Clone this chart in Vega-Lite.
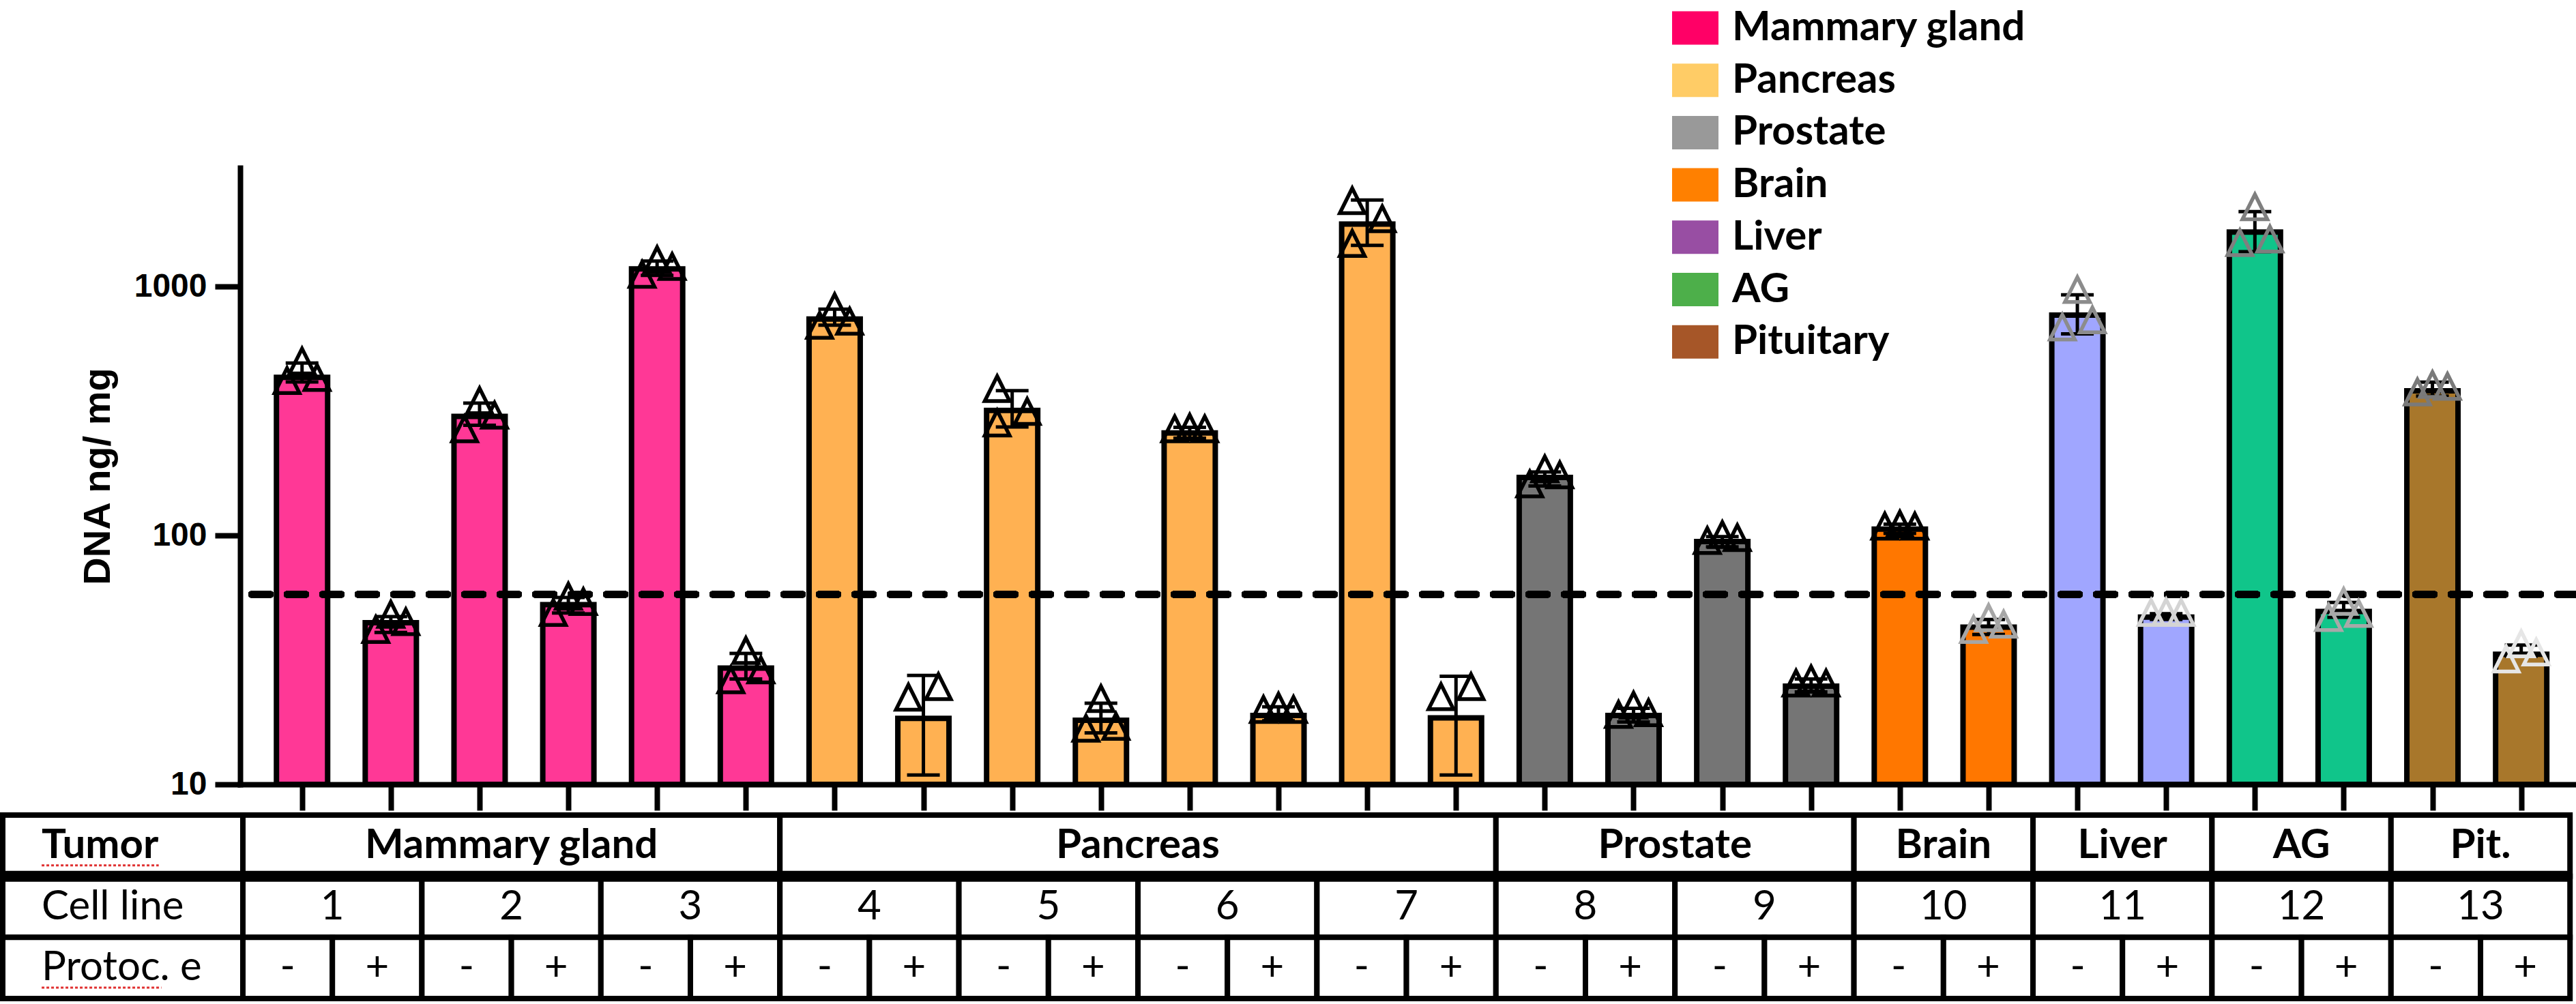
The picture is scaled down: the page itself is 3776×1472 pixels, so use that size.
{
  "$schema": "https://vega.github.io/schema/vega-lite/v6.json",
  "description": "DNA ng/mg per tumor cell line, with and without protocol e, log scale, with table of groups underneath.",
  "width": 3424,
  "height": 904,
  "autosize": "none",
  "padding": {"left": 352, "top": 246, "right": 0, "bottom": 322},
  "background": "white",
  "datasets": {
    "bars": [
      {"pos": 1, "tissue": "Mammary gland", "line": 1, "prot": "-", "mean": 432, "lo": 414, "hi": 493},
      {"pos": 2, "tissue": "Mammary gland", "line": 1, "prot": "+", "mean": 44.6, "lo": 40.8, "hi": 47.2},
      {"pos": 3, "tissue": "Mammary gland", "line": 2, "prot": "-", "mean": 301, "lo": 277, "hi": 340},
      {"pos": 4, "tissue": "Mammary gland", "line": 2, "prot": "+", "mean": 52.7, "lo": 48.8, "hi": 56.3},
      {"pos": 5, "tissue": "Mammary gland", "line": 3, "prot": "-", "mean": 1178, "lo": 1109, "hi": 1265},
      {"pos": 6, "tissue": "Mammary gland", "line": 3, "prot": "+", "mean": 29.3, "lo": 26.5, "hi": 33.6},
      {"pos": 7, "tissue": "Pancreas", "line": 4, "prot": "-", "mean": 740, "lo": 700, "hi": 812},
      {"pos": 8, "tissue": "Pancreas", "line": 4, "prot": "+", "mean": 18.4, "lo": 10.9, "hi": 27.4},
      {"pos": 9, "tissue": "Pancreas", "line": 5, "prot": "-", "mean": 318, "lo": 273, "hi": 382},
      {"pos": 10, "tissue": "Pancreas", "line": 5, "prot": "+", "mean": 18.1, "lo": 16.1, "hi": 21.2},
      {"pos": 11, "tissue": "Pancreas", "line": 6, "prot": "-", "mean": 258, "lo": 246, "hi": 272},
      {"pos": 12, "tissue": "Pancreas", "line": 6, "prot": "+", "mean": 18.9, "lo": 18, "hi": 20.5},
      {"pos": 13, "tissue": "Pancreas", "line": 7, "prot": "-", "mean": 1783, "lo": 1463, "hi": 2228},
      {"pos": 14, "tissue": "Pancreas", "line": 7, "prot": "+", "mean": 18.5, "lo": 10.9, "hi": 27.2},
      {"pos": 15, "tissue": "Prostate", "line": 8, "prot": "-", "mean": 171, "lo": 158, "hi": 180},
      {"pos": 16, "tissue": "Prostate", "line": 8, "prot": "+", "mean": 18.9, "lo": 17.8, "hi": 20.2},
      {"pos": 17, "tissue": "Prostate", "line": 9, "prot": "-", "mean": 94.5, "lo": 90, "hi": 99},
      {"pos": 18, "tissue": "Prostate", "line": 9, "prot": "+", "mean": 24.8, "lo": 23.5, "hi": 26.5},
      {"pos": 19, "tissue": "Brain", "line": 10, "prot": "-", "mean": 106, "lo": 102, "hi": 111},
      {"pos": 20, "tissue": "Brain", "line": 10, "prot": "+", "mean": 42.8, "lo": 40, "hi": 46},
      {"pos": 21, "tissue": "Liver", "line": 11, "prot": "-", "mean": 768, "lo": 645, "hi": 927},
      {"pos": 22, "tissue": "Liver", "line": 11, "prot": "+", "mean": 47, "lo": 46, "hi": 48.5},
      {"pos": 23, "tissue": "AG", "line": 12, "prot": "-", "mean": 1656, "lo": 1380, "hi": 2000},
      {"pos": 24, "tissue": "AG", "line": 12, "prot": "+", "mean": 49.5, "lo": 46.9, "hi": 53.8},
      {"pos": 25, "tissue": "Pituitary", "line": 13, "prot": "-", "mean": 381, "lo": 363, "hi": 413},
      {"pos": 26, "tissue": "Pituitary", "line": 13, "prot": "+", "mean": 33.3, "lo": 32.7, "hi": 36.3}
    ],
    "reps": [
      {"pos": 1, "slot": -1, "v": 419}, {"pos": 1, "slot": 0, "v": 502}, {"pos": 1, "slot": 1, "v": 431},
      {"pos": 2, "slot": -1, "v": 41.9}, {"pos": 2, "slot": 0, "v": 48.2}, {"pos": 2, "slot": 1, "v": 45},
      {"pos": 3, "slot": -1, "v": 268}, {"pos": 3, "slot": 0, "v": 348}, {"pos": 3, "slot": 1, "v": 304},
      {"pos": 4, "slot": -1, "v": 49}, {"pos": 4, "slot": 0, "v": 57}, {"pos": 4, "slot": 1, "v": 54.2},
      {"pos": 5, "slot": -1, "v": 1119}, {"pos": 5, "slot": 0, "v": 1282}, {"pos": 5, "slot": 1, "v": 1203},
      {"pos": 6, "slot": -1, "v": 26.3}, {"pos": 6, "slot": 0, "v": 34.5}, {"pos": 6, "slot": 1, "v": 28.8},
      {"pos": 7, "slot": -1, "v": 698}, {"pos": 7, "slot": 0, "v": 830}, {"pos": 7, "slot": 1, "v": 725},
      {"pos": 8, "slot": -1, "v": 22.4}, {"pos": 8, "slot": 1, "v": 24.7},
      {"pos": 9, "slot": -1, "v": 389}, {"pos": 9, "slot": 1, "v": 315}, {"pos": 9, "slot": -1, "v": 283},
      {"pos": 10, "slot": -1, "v": 16.8}, {"pos": 10, "slot": 0, "v": 22.1}, {"pos": 10, "slot": 1, "v": 17.1},
      {"pos": 11, "slot": -1, "v": 268}, {"pos": 11, "slot": 0, "v": 272}, {"pos": 11, "slot": 1, "v": 268},
      {"pos": 12, "slot": -1, "v": 20}, {"pos": 12, "slot": 0, "v": 20.6}, {"pos": 12, "slot": 1, "v": 20},
      {"pos": 13, "slot": -1, "v": 2213}, {"pos": 13, "slot": 1, "v": 1871}, {"pos": 13, "slot": -1, "v": 1490},
      {"pos": 14, "slot": -1, "v": 22.5}, {"pos": 14, "slot": 1, "v": 24.7},
      {"pos": 15, "slot": -1, "v": 161}, {"pos": 15, "slot": 0, "v": 185}, {"pos": 15, "slot": 1, "v": 175},
      {"pos": 16, "slot": -1, "v": 19.1}, {"pos": 16, "slot": 0, "v": 20.8}, {"pos": 16, "slot": 1, "v": 19.4},
      {"pos": 17, "slot": -1, "v": 95.4}, {"pos": 17, "slot": 0, "v": 100.8}, {"pos": 17, "slot": 1, "v": 98},
      {"pos": 18, "slot": -1, "v": 25.5}, {"pos": 18, "slot": 0, "v": 26.5}, {"pos": 18, "slot": 1, "v": 25.5},
      {"pos": 19, "slot": -1, "v": 109}, {"pos": 19, "slot": 0, "v": 111}, {"pos": 19, "slot": 1, "v": 109},
      {"pos": 20, "slot": -1, "v": 41.9}, {"pos": 20, "slot": 0, "v": 46.7}, {"pos": 20, "slot": 1, "v": 44},
      {"pos": 21, "slot": -1, "v": 687}, {"pos": 21, "slot": 0, "v": 972}, {"pos": 21, "slot": 1, "v": 734},
      {"pos": 22, "slot": -1, "v": 49}, {"pos": 22, "slot": 0, "v": 49.3}, {"pos": 22, "slot": 1, "v": 49},
      {"pos": 23, "slot": -1, "v": 1500}, {"pos": 23, "slot": 0, "v": 2090}, {"pos": 23, "slot": 1, "v": 1552},
      {"pos": 24, "slot": -1, "v": 46.8}, {"pos": 24, "slot": 0, "v": 54.3}, {"pos": 24, "slot": 1, "v": 48.6},
      {"pos": 25, "slot": -1, "v": 377}, {"pos": 25, "slot": 0, "v": 404}, {"pos": 25, "slot": 1, "v": 397},
      {"pos": 26, "slot": -1, "v": 31.9}, {"pos": 26, "slot": 0, "v": 36.7}, {"pos": 26, "slot": 1, "v": 34}
    ],
    "cells": [
      {"row": "Tumor", "from": 0, "to": 6, "label": "Mammary gland"},
      {"row": "Tumor", "from": 6, "to": 14, "label": "Pancreas"},
      {"row": "Tumor", "from": 14, "to": 18, "label": "Prostate"},
      {"row": "Tumor", "from": 18, "to": 20, "label": "Brain"},
      {"row": "Tumor", "from": 20, "to": 22, "label": "Liver"},
      {"row": "Tumor", "from": 22, "to": 24, "label": "AG"},
      {"row": "Tumor", "from": 24, "to": 26, "label": "Pit."},
      {"row": "Cell line", "from": 0, "to": 2, "label": "1"},
      {"row": "Cell line", "from": 2, "to": 4, "label": "2"},
      {"row": "Cell line", "from": 4, "to": 6, "label": "3"},
      {"row": "Cell line", "from": 6, "to": 8, "label": "4"},
      {"row": "Cell line", "from": 8, "to": 10, "label": "5"},
      {"row": "Cell line", "from": 10, "to": 12, "label": "6"},
      {"row": "Cell line", "from": 12, "to": 14, "label": "7"},
      {"row": "Cell line", "from": 14, "to": 16, "label": "8"},
      {"row": "Cell line", "from": 16, "to": 18, "label": "9"},
      {"row": "Cell line", "from": 18, "to": 20, "label": "10"},
      {"row": "Cell line", "from": 20, "to": 22, "label": "11"},
      {"row": "Cell line", "from": 22, "to": 24, "label": "12"},
      {"row": "Cell line", "from": 24, "to": 26, "label": "13"},
      {"row": "Protoc. e", "from": 0, "to": 1, "label": "-"},
      {"row": "Protoc. e", "from": 1, "to": 2, "label": "+"},
      {"row": "Protoc. e", "from": 2, "to": 3, "label": "-"},
      {"row": "Protoc. e", "from": 3, "to": 4, "label": "+"},
      {"row": "Protoc. e", "from": 4, "to": 5, "label": "-"},
      {"row": "Protoc. e", "from": 5, "to": 6, "label": "+"},
      {"row": "Protoc. e", "from": 6, "to": 7, "label": "-"},
      {"row": "Protoc. e", "from": 7, "to": 8, "label": "+"},
      {"row": "Protoc. e", "from": 8, "to": 9, "label": "-"},
      {"row": "Protoc. e", "from": 9, "to": 10, "label": "+"},
      {"row": "Protoc. e", "from": 10, "to": 11, "label": "-"},
      {"row": "Protoc. e", "from": 11, "to": 12, "label": "+"},
      {"row": "Protoc. e", "from": 12, "to": 13, "label": "-"},
      {"row": "Protoc. e", "from": 13, "to": 14, "label": "+"},
      {"row": "Protoc. e", "from": 14, "to": 15, "label": "-"},
      {"row": "Protoc. e", "from": 15, "to": 16, "label": "+"},
      {"row": "Protoc. e", "from": 16, "to": 17, "label": "-"},
      {"row": "Protoc. e", "from": 17, "to": 18, "label": "+"},
      {"row": "Protoc. e", "from": 18, "to": 19, "label": "-"},
      {"row": "Protoc. e", "from": 19, "to": 20, "label": "+"},
      {"row": "Protoc. e", "from": 20, "to": 21, "label": "-"},
      {"row": "Protoc. e", "from": 21, "to": 22, "label": "+"},
      {"row": "Protoc. e", "from": 22, "to": 23, "label": "-"},
      {"row": "Protoc. e", "from": 23, "to": 24, "label": "+"},
      {"row": "Protoc. e", "from": 24, "to": 25, "label": "-"},
      {"row": "Protoc. e", "from": 25, "to": 26, "label": "+"}
    ],
    "heads": [
      {"row": "Tumor"},
      {"row": "Cell line"},
      {"row": "Protoc. e"}
    ]
  },
  "layer": [
    {
      "data": {"name": "bars"},
      "layer": [
        {
          "mark": {"type": "bar", "orient": "vertical", "size": 75, "stroke": "black", "strokeWidth": 8, "opacity": 1},
          "encoding": {
            "x": {
              "field": "pos",
              "type": "quantitative",
              "scale": {"domain": [0.341, 26.579], "nice": false, "zero": false},
              "axis": {
                "values": [1, 2, 3, 4, 5, 6, 7, 8, 9, 10, 11, 12, 13, 14, 15, 16, 17, 18, 19, 20, 21, 22, 23, 24, 25, 26],
                "labels": false,
                "title": null,
                "grid": false,
                "tickSize": 38,
                "tickWidth": 8,
                "tickColor": "black",
                "domainColor": "black",
                "domainWidth": 8,
                "domainCap": "square",
                "zindex": 1
              }
            },
            "y": {
              "field": "mean",
              "type": "quantitative",
              "scale": {"type": "log", "domain": [10, 3000], "nice": false},
              "axis": {
                "values": [10, 100, 1000],
                "format": "d",
                "title": "DNA ng/ mg",
                "titleFont": "Liberation Sans",
                "titleFontSize": 56,
                "titleFontWeight": "bold",
                "titleColor": "black",
                "titlePadding": 24,
                "labelFont": "Liberation Sans",
                "labelFontSize": 48,
                "labelFontWeight": "bold",
                "labelColor": "black",
                "labelPadding": 12,
                "labelFlush": false,
                "labelOverlap": false,
                "tickSize": 37,
                "tickWidth": 8,
                "tickColor": "black",
                "domainColor": "black",
                "domainWidth": 8,
                "domainCap": "square",
                "grid": false,
                "zindex": 1
              }
            },
            "y2": {"datum": 10},
            "fill": {
              "field": "tissue",
              "type": "nominal",
              "condition": [
                {"test": "datum.tissue == 'Mammary gland'", "value": "#FF3896"},
                {"test": "datum.tissue == 'Pancreas'", "value": "#FFB152"},
                {"test": "datum.tissue == 'Prostate'", "value": "#757575"},
                {"test": "datum.tissue == 'Brain'", "value": "#FF7700"},
                {"test": "datum.tissue == 'Liver'", "value": "#A0A6FF"},
                {"test": "datum.tissue == 'AG'", "value": "#10C58A"},
                {"test": "datum.tissue == 'Pituitary'", "value": "#A8772B"}
              ],
              "scale": {
                "domain": ["Mammary gland", "Pancreas", "Prostate", "Brain", "Liver", "AG", "Pituitary"],
                "range": ["#FF0066", "#FFCC66", "#999999", "#FF8000", "#984EA3", "#4DAF4A", "#A65628"]
              },
              "legend": {
                "title": null,
                "orient": "none",
                "legendX": 2099,
                "legendY": -239,
                "padding": 0,
                "symbolType": "M-1,-0.72H1V0.72H-1Z",
                "symbolSize": 4624,
                "symbolStrokeWidth": 0,
                "symbolOpacity": 1,
                "labelFont": "Lato",
                "labelFontSize": 60,
                "labelFontWeight": "bold",
                "labelColor": "black",
                "labelOffset": 20,
                "labelLimit": 1000,
                "rowPadding": 12.7
              }
            }
          }
        },
        {
          "mark": {"type": "rule", "stroke": "black", "strokeWidth": 10, "strokeDash": [27, 25], "strokeCap": "round", "opacity": 1},
          "encoding": {"y": {"datum": 58, "type": "quantitative"}}
        },
        {
          "mark": {"type": "rule", "stroke": "black", "strokeWidth": 5, "opacity": 1},
          "encoding": {
            "x": {"field": "pos", "type": "quantitative"},
            "y": {"field": "lo", "type": "quantitative"},
            "y2": {"field": "hi"}
          }
        },
        {
          "transform": [{"fold": ["lo", "hi"], "as": ["end", "v"]}],
          "mark": {"type": "tick", "orient": "horizontal", "size": 48, "thickness": 5, "color": "black", "opacity": 1},
          "encoding": {
            "x": {"field": "pos", "type": "quantitative"},
            "y": {"field": "v", "type": "quantitative"}
          }
        },
        {
          "data": {"name": "reps"},
          "transform": [{"filter": "datum.slot == -1"}],
          "mark": {"type": "point", "shape": "M0,-1L1,1L-1,1Z", "filled": false, "size": 1330, "strokeWidth": 5.5, "opacity": 1, "xOffset": -22},
          "encoding": {
            "x": {"field": "pos", "type": "quantitative"},
            "y": {"field": "v", "type": "quantitative"},
            "stroke": {
              "condition": [
                {"test": "datum.pos == 20", "value": "#A6A6A6"},
                {"test": "datum.pos == 21", "value": "#8C8C8C"},
                {"test": "datum.pos == 22", "value": "#D4D4D4"},
                {"test": "datum.pos == 23", "value": "#7F7F7F"},
                {"test": "datum.pos == 24", "value": "#A8A8A8"},
                {"test": "datum.pos == 25", "value": "#7A7A7A"},
                {"test": "datum.pos == 26", "value": "#E6E6E6"}
              ],
              "value": "black"
            }
          }
        },
        {
          "data": {"name": "reps"},
          "transform": [{"filter": "datum.slot == 0"}],
          "mark": {"type": "point", "shape": "M0,-1L1,1L-1,1Z", "filled": false, "size": 1330, "strokeWidth": 5.5, "opacity": 1},
          "encoding": {
            "x": {"field": "pos", "type": "quantitative"},
            "y": {"field": "v", "type": "quantitative"},
            "stroke": {
              "condition": [
                {"test": "datum.pos == 20", "value": "#A6A6A6"},
                {"test": "datum.pos == 21", "value": "#8C8C8C"},
                {"test": "datum.pos == 22", "value": "#D4D4D4"},
                {"test": "datum.pos == 23", "value": "#7F7F7F"},
                {"test": "datum.pos == 24", "value": "#A8A8A8"},
                {"test": "datum.pos == 25", "value": "#7A7A7A"},
                {"test": "datum.pos == 26", "value": "#E6E6E6"}
              ],
              "value": "black"
            }
          }
        },
        {
          "data": {"name": "reps"},
          "transform": [{"filter": "datum.slot == 1"}],
          "mark": {"type": "point", "shape": "M0,-1L1,1L-1,1Z", "filled": false, "size": 1330, "strokeWidth": 5.5, "opacity": 1, "xOffset": 22},
          "encoding": {
            "x": {"field": "pos", "type": "quantitative"},
            "y": {"field": "v", "type": "quantitative"},
            "stroke": {
              "condition": [
                {"test": "datum.pos == 20", "value": "#A6A6A6"},
                {"test": "datum.pos == 21", "value": "#8C8C8C"},
                {"test": "datum.pos == 22", "value": "#D4D4D4"},
                {"test": "datum.pos == 23", "value": "#7F7F7F"},
                {"test": "datum.pos == 24", "value": "#A8A8A8"},
                {"test": "datum.pos == 25", "value": "#7A7A7A"},
                {"test": "datum.pos == 26", "value": "#E6E6E6"}
              ],
              "value": "black"
            }
          }
        }
      ]
    },
    {
      "data": {"name": "cells"},
      "layer": [
        {
          "mark": {"type": "rect", "fill": "white", "stroke": "black", "strokeWidth": 8, "opacity": 1},
          "encoding": {
            "x": {
              "field": "from",
              "type": "quantitative",
              "scale": {"domain": [-0.0305, 26.067], "nice": false, "zero": false},
              "axis": null
            },
            "x2": {"field": "to"},
            "y": {
              "field": "row",
              "type": "nominal",
              "scale": {"domain": ["Tumor", "Cell line", "Protoc. e"], "range": [949, 1218], "paddingInner": 0, "paddingOuter": 0},
              "axis": null
            }
          }
        },
        {
          "data": {"name": "heads"},
          "mark": {"type": "rect", "fill": "white", "stroke": "black", "strokeWidth": 8, "opacity": 1},
          "encoding": {
            "x": {"datum": -2.683, "type": "quantitative"},
            "x2": {"datum": 0},
            "y": {"field": "row", "type": "nominal"}
          }
        },
        {
          "data": {"name": "heads"},
          "transform": [{"filter": "datum.row == 'Cell line'"}],
          "mark": {"type": "rule", "stroke": "black", "strokeWidth": 16, "opacity": 1},
          "encoding": {
            "x": {"datum": -2.683, "type": "quantitative"},
            "x2": {"datum": 26},
            "y": {"field": "row", "type": "nominal", "bandPosition": 0}
          }
        },
        {
          "data": {"name": "heads"},
          "transform": [{"filter": "datum.row == 'Tumor'"}],
          "mark": {"type": "rule", "stroke": "#E03030", "strokeWidth": 3, "strokeDash": [4, 3], "yOffset": -16, "opacity": 1},
          "encoding": {
            "x": {"datum": -2.248, "type": "quantitative"},
            "x2": {"datum": -0.94},
            "y": {"field": "row", "type": "nominal", "bandPosition": 1}
          }
        },
        {
          "data": {"name": "heads"},
          "transform": [{"filter": "datum.row == 'Protoc. e'"}],
          "mark": {"type": "rule", "stroke": "#E03030", "strokeWidth": 3, "strokeDash": [4, 3], "yOffset": -16, "opacity": 1},
          "encoding": {
            "x": {"datum": -2.248, "type": "quantitative"},
            "x2": {"datum": -0.91},
            "y": {"field": "row", "type": "nominal", "bandPosition": 1}
          }
        },
        {
          "data": {"name": "heads"},
          "transform": [{"filter": "datum.row == 'Tumor'"}],
          "mark": {"type": "text", "align": "left", "baseline": "middle", "dx": 57, "font": "Lato", "fontSize": 60, "fontWeight": "bold", "color": "black"},
          "encoding": {
            "x": {"datum": -2.683, "type": "quantitative"},
            "y": {"field": "row", "type": "nominal"},
            "text": {"field": "row"}
          }
        },
        {
          "data": {"name": "heads"},
          "transform": [{"filter": "datum.row != 'Tumor'"}],
          "mark": {"type": "text", "align": "left", "baseline": "middle", "dx": 57, "font": "Lato", "fontSize": 60, "fontWeight": "normal", "color": "black"},
          "encoding": {
            "x": {"datum": -2.683, "type": "quantitative"},
            "y": {"field": "row", "type": "nominal"},
            "text": {"field": "row"}
          }
        },
        {
          "transform": [
            {"filter": "datum.row == 'Tumor'"},
            {"fold": ["from", "to"], "as": ["edge", "val"]},
            {"aggregate": [{"op": "mean", "field": "val", "as": "mid"}], "groupby": ["row", "label", "from"]}
          ],
          "mark": {"type": "text", "align": "center", "baseline": "middle", "font": "Lato", "fontSize": 60, "fontWeight": "bold", "color": "black"},
          "encoding": {
            "x": {"field": "mid", "type": "quantitative"},
            "y": {"field": "row", "type": "nominal"},
            "text": {"field": "label"}
          }
        },
        {
          "transform": [
            {"filter": "datum.row != 'Tumor'"},
            {"fold": ["from", "to"], "as": ["edge", "val"]},
            {"aggregate": [{"op": "mean", "field": "val", "as": "mid"}], "groupby": ["row", "label", "from"]}
          ],
          "mark": {"type": "text", "align": "center", "baseline": "middle", "font": "Lato", "fontSize": 60, "fontWeight": "normal", "color": "black"},
          "encoding": {
            "x": {"field": "mid", "type": "quantitative"},
            "y": {"field": "row", "type": "nominal"},
            "text": {"field": "label"}
          }
        }
      ]
    }
  ],
  "resolve": {
    "scale": {"x": "independent", "y": "independent"},
    "axis": {"x": "independent", "y": "independent"}
  },
  "config": {
    "view": {"stroke": null},
    "font": "Lato"
  }
}
